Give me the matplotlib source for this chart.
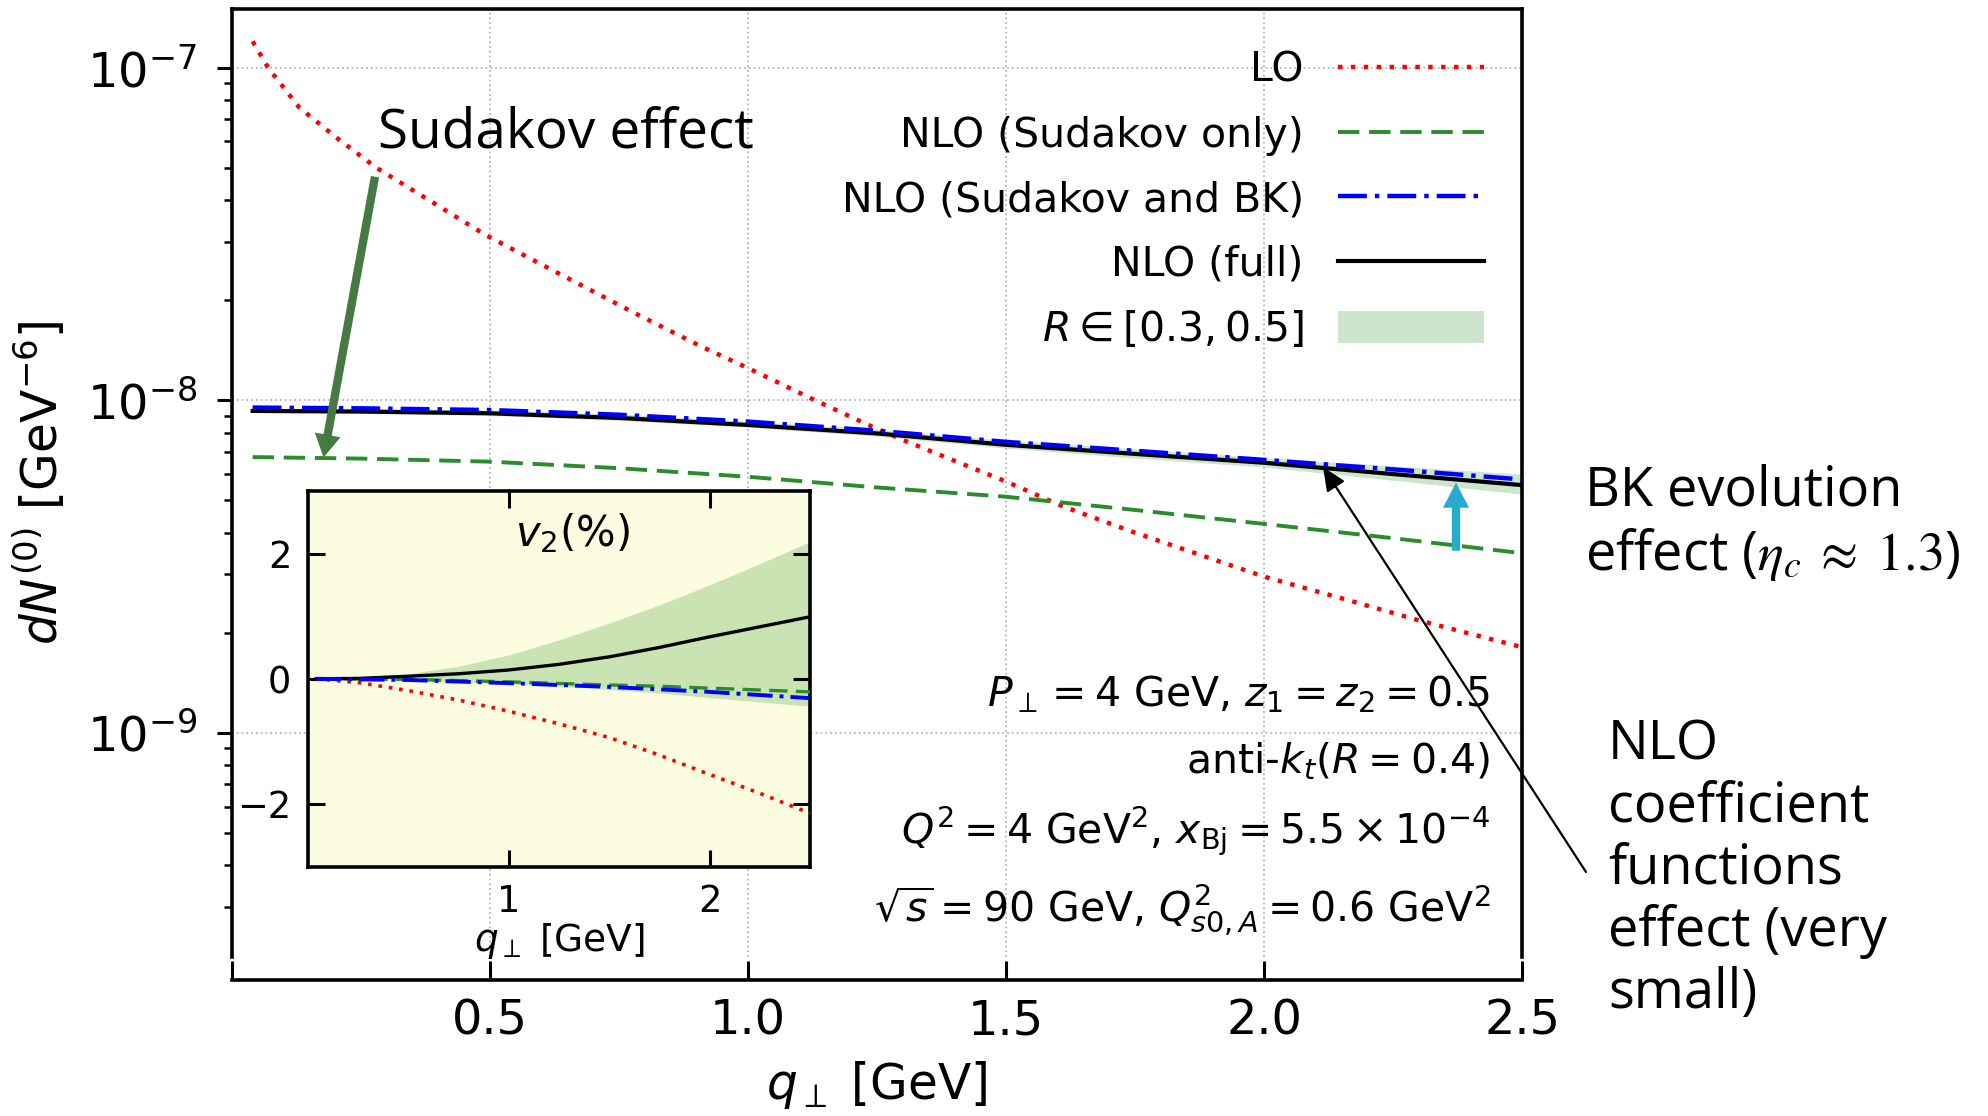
import matplotlib
matplotlib.use("Agg")
import matplotlib.pyplot as plt
from matplotlib.patches import Patch, FancyArrowPatch
from matplotlib.lines import Line2D
from matplotlib.ticker import NullFormatter

# ---- main panel data ----
q_lo = [0.04, 0.07, 0.13, 0.20, 0.28, 0.40, 0.49, 0.60, 0.78, 0.91, 1.00,
        1.13, 1.24, 1.30, 1.50, 1.61, 1.75, 2.00, 2.15, 2.30, 2.50]
lo = [1.20e-7, 1.00e-7, 7.6e-8, 6.2e-8, 5.0e-8, 3.84e-8, 3.15e-8, 2.56e-8,
      1.83e-8, 1.45e-8, 1.25e-8, 1.0e-8, 8.34e-9, 7.6e-9, 5.7e-9, 4.8e-9,
      4.0e-9, 2.95e-9, 2.54e-9, 2.18e-9, 1.81e-9]

q_nlo = [0.04, 0.25, 0.5, 0.75, 1.0, 1.25, 1.5, 1.75, 2.0, 2.25, 2.5]
nlo_full = [9.29e-9, 9.25e-9, 9.14e-9, 8.85e-9, 8.43e-9, 7.95e-9, 7.35e-9,
            6.9e-9, 6.49e-9, 6.0e-9, 5.56e-9]
nlo_sud_bk = [9.51e-9, 9.46e-9, 9.35e-9, 9.05e-9, 8.63e-9, 8.1e-9, 7.5e-9,
              7.05e-9, 6.62e-9, 6.2e-9, 5.78e-9]
nlo_sud = [6.75e-9, 6.68e-9, 6.54e-9, 6.25e-9, 5.89e-9, 5.47e-9, 5.13e-9,
           4.68e-9, 4.25e-9, 3.85e-9, 3.47e-9]
band_lo = [9.2e-9, 9.15e-9, 9.0e-9, 8.7e-9, 8.3e-9, 7.8e-9, 7.18e-9,
           6.7e-9, 6.3e-9, 5.75e-9, 5.22e-9]
band_hi = [9.45e-9, 9.45e-9, 9.35e-9, 9.1e-9, 8.65e-9, 8.2e-9, 7.57e-9,
           7.15e-9, 6.72e-9, 6.35e-9, 6.0e-9]

# ---- inset: v2 (%) ----
q_v2 = [0.04, 0.25, 0.5, 0.75, 1.0, 1.25, 1.5, 1.75, 2.0, 2.25, 2.5]
v2_lo = [0.0, -0.06, -0.19, -0.34, -0.52, -0.72, -0.94, -1.22, -1.53, -1.83, -2.15]
v2_sud = [0.0, -0.005, -0.01, -0.03, -0.05, -0.075, -0.1, -0.12, -0.15, -0.18, -0.21]
v2_sud_bk = [0.0, -0.01, -0.02, -0.045, -0.07, -0.1, -0.13, -0.17, -0.21, -0.26, -0.31]
v2_full = [0.0, 0.005, 0.04, 0.08, 0.14, 0.23, 0.35, 0.5, 0.67, 0.83, 0.99]
v2_band_lo = [0.0, -0.01, -0.02, -0.05, -0.08, -0.12, -0.17, -0.23, -0.3, -0.37, -0.44]
v2_band_hi = [0.0, 0.02, 0.08, 0.2, 0.38, 0.62, 0.89, 1.18, 1.5, 1.84, 2.19]

xticks = [0, 0.5, 1.0, 1.5, 2.0, 2.5]
xticklabels = ["", "0.5", "1.0", "1.5", "2.0", "2.5"]
legend_labels = ["LO", "NLO (Sudakov only)", "NLO (Sudakov and BK)",
                 "NLO (full)", r"$R \in [0.3, 0.5]$"]
params = [r"$P_\perp = 4$ GeV, $z_1 = z_2 = 0.5$",
          r"anti-$k_t$($R = 0.4$)",
          r"$Q^2 = 4$ GeV$^2$, $x_{\rm Bj} = 5.5\times10^{-4}$",
          r"$\sqrt{s} = 90$ GeV, $Q^2_{s0,A} = 0.6$ GeV$^2$"]

RED = "red"
GREEN = "#2a8c2a"
BLUE = "blue"
BAND = "green"
W, H = 1988, 1116


def fx(px):
    return px / W


def fy(py):
    return 1 - py / H


fig = plt.figure(figsize=(19.88, 11.16), dpi=100)
ax = fig.add_axes([fx(232), fy(957), fx(1522) - fx(232), fy(9.3) - fy(957)])

st_lo = dict(color=RED, lw=3.2, linestyle=(0, (1, 1.9)))
st_sud = dict(color=GREEN, lw=2.8, linestyle=(0, (5.5, 2.5)))
st_bk = dict(color=BLUE, lw=3.2, linestyle=(0, (6.5, 1.8, 1, 1.8)))
st_full = dict(color="black", lw=3.0, linestyle="-")

ax.fill_between(q_nlo, band_lo, band_hi, color=BAND, alpha=0.2, lw=0, zorder=1)
ax.plot(q_lo, lo, zorder=3, **st_lo)
ax.plot(q_nlo, nlo_sud, zorder=3, **st_sud)
ax.plot(q_nlo, nlo_full, zorder=3, **st_full)
ax.plot(q_nlo, nlo_sud_bk, zorder=4, **st_bk)

ax.set_yscale("log")
ax.set_xlim(0, 2.5)
ax.set_ylim(2.12e-10, 1.498e-7)
ax.set_xticks(xticks)
ax.set_xticklabels(xticklabels)
ax.yaxis.set_minor_formatter(NullFormatter())
ax.grid(True, which="major", linestyle=":", color="#b5b5b5", lw=1.3)
ax.set_axisbelow(True)

for s in ax.spines.values():
    s.set_linewidth(2.6)
ax.spines["bottom"].set_position(("outward", 16.5))
ax.tick_params(axis="x", direction="in", length=14, width=2.2, pad=13,
               labelsize=34.5)
ax.tick_params(axis="y", which="major", direction="out", length=11, width=2.2,
               pad=14, labelsize=34.5)
ax.tick_params(axis="y", which="minor", direction="out", length=6, width=1.8)

ax.set_xlabel(r"$q_\perp$ [GeV]", fontsize=35)
ax.xaxis.set_label_coords(0.5, -0.108)
ax.set_ylabel(r"$dN^{(0)}$ [GeV$^{-6}$]", fontsize=35)
ax.yaxis.set_label_coords(-0.127, 0.5)

handles = [Line2D([], [], **st_lo), Line2D([], [], **st_sud),
           Line2D([], [], **st_bk), Line2D([], [], **st_full),
           Patch(facecolor=BAND, alpha=0.2, lw=0)]
ax.legend(handles, legend_labels, loc="upper right",
          bbox_to_anchor=(0.9705, 0.956), frameon=False, markerfirst=False,
          fontsize=29.5, handlelength=3.55, handletextpad=0.85,
          labelspacing=0.6, handleheight=0.8, borderpad=0, borderaxespad=0)

for txt, yb in zip(params, [0.2640, 0.1941, 0.1203, 0.0373]):
    ax.text(0.9755, yb, txt, transform=ax.transAxes, ha="right",
            va="baseline", fontsize=29.5)

# ---- inset ----
ins = fig.add_axes([fx(308), fy(866.5), fx(810) - fx(308), fy(491) - fy(866.5)],
                   facecolor="#fcfce0")
ins.fill_between(q_v2, v2_band_lo, v2_band_hi, color=BAND, alpha=0.2, lw=0,
                 zorder=1)
ins.plot(q_v2, v2_lo, zorder=3, **dict(st_lo, lw=2.6))
ins.plot(q_v2, v2_sud, zorder=3, **dict(st_sud, lw=2.4))
ins.plot(q_v2, v2_full, zorder=3, **dict(st_full, lw=2.4))
ins.plot(q_v2, v2_sud_bk, zorder=4, **dict(st_bk, lw=2.8))
ins.set_xlim(0, 2.5)
ins.set_ylim(-3, 3)
ins.set_xticks([1, 2])
ins.set_yticks([-2, 0, 2])
for s in ins.spines.values():
    s.set_linewidth(2.6)
ins.tick_params(direction="in", top=True, right=True, length=12, width=2.2,
                labelsize=26.5, pad=12)
ins.set_xlabel(r"$q_\perp$ [GeV]", fontsize=27)
ins.xaxis.set_label_coords(0.5, -0.145)
ins.text(0.527, 0.887, r"$v_2(\%)$", transform=ins.transAxes, ha="center",
         va="center", fontsize=30)

# ---- slide annotations (baseline given for the last line) ----
ANN = dict(family="Open Sans", color="black")
fig.text(fx(378), fy(147), "Sudakov effect", ha="left", va="baseline",
         fontsize=39.5, **ANN)
fig.text(fx(1585), fy(570),
         "BK evolution\neffect ($\\eta_c\\;\\approx\\;1.3$)",
         ha="left", va="baseline", fontsize=39, linespacing=1.17,
         math_fontfamily="stix", **ANN)
fig.text(fx(1608), fy(1008), "NLO\ncoefficient\nfunctions\neffect (very\nsmall)",
         ha="left", va="baseline", fontsize=39, linespacing=1.17, **ANN)

fig.add_artist(FancyArrowPatch(
    (fx(375), fy(176.7)), (fx(323.5), fy(457.5)), transform=fig.transFigure,
    arrowstyle="simple,head_length=1.1,head_width=1.25,tail_width=0.4",
    mutation_scale=15, color="#467a42", lw=0, shrinkA=0, shrinkB=0))
fig.add_artist(FancyArrowPatch(
    (fx(1456), fy(550.7)), (fx(1456), fy(482.7)), transform=fig.transFigure,
    arrowstyle="simple,head_length=1.2,head_width=1.25,tail_width=0.4",
    mutation_scale=15, color="#26acce", lw=0, shrinkA=0, shrinkB=0))
fig.add_artist(FancyArrowPatch(
    (fx(1586), fy(872)), (fx(1323), fy(467)), transform=fig.transFigure,
    arrowstyle="-|>,head_length=0.45,head_width=0.2", mutation_scale=32,
    color="black", lw=1.6, shrinkA=0, shrinkB=0))

fig.savefig("out.png", dpi=100)
